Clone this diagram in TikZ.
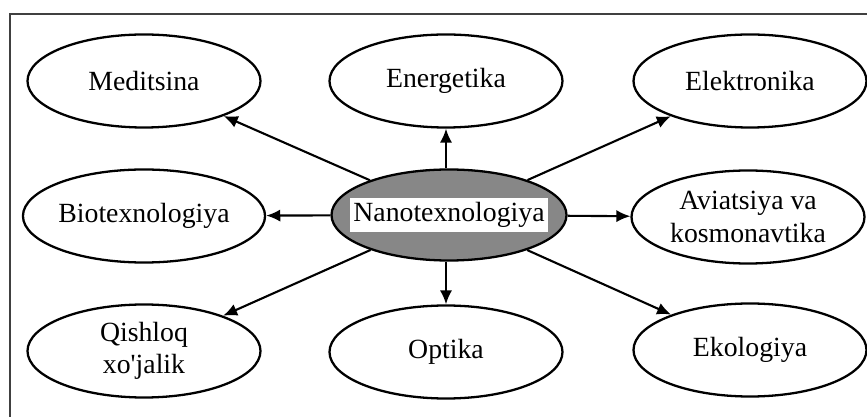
\documentclass[tikz,border=0pt]{standalone}
\usepackage{fontspec}
\setmainfont{Liberation Serif}
\usetikzlibrary{shapes.geometric, arrows.meta}

\tikzset{
  oval/.style={draw, ellipse, line width=1.3pt, inner sep=0pt, align=center,
    minimum width=4.66cm, minimum height=1.86cm,
    font=\fontsize{15.8}{18.5}\selectfont},
  link/.style={line width=1.2pt, -{Latex[length=8pt, width=7pt]}}
}

\begin{document}
\begin{tikzpicture}
\useasboundingbox (0,0) rectangle (17.34,8.34);
\draw [color=black!75, line width=0.9pt] (0.2,0) -- (0.2,8.06) -- (17.34,8.06);

\node (nano) at (8.98,4.04) [oval, fill=black!47, minimum width=4.7cm, minimum height=1.82cm] {};
\node (nanotext) at (nano) [fill=white, inner xsep=2pt, inner ysep=0pt, text height=13.5pt, text depth=6pt,
  font=\fontsize{15.8}{18.5}\selectfont] {Nanotexnologiya};

\node (med) at (2.88,6.72) [oval] {Meditsina};
\node (ener) at (8.92,6.72) [oval] {Energetika};
\node (elek) at (15.0,6.72) [oval] {Elektronika};
\node (bio) at (2.88,4.02) [oval] {Biotexnologiya};
\node (avia) at (14.96,4.0) [oval] {Aviatsiya va\\kosmonavtika};
\node (qish) at (2.88,1.32) [oval] {Qishloq\\xo\textquotesingle jalik};
\node (opt) at (8.92,1.3) [oval] {Optika};
\node (eko) at (15.0,1.34) [oval] {Ekologiya};

\draw [link] (nano) -- (med);
\draw [link] (nano.north -| ener) -- (ener);
\draw [link] (nano) -- (elek);
\draw [link] (nano) -- (bio);
\draw [link] (nano) -- (avia);
\draw [link] (nano) -- (qish);
\draw [link] (nano.south -| opt) -- (opt);
\draw [link] (nano) -- (eko);
\end{tikzpicture}
\end{document}
